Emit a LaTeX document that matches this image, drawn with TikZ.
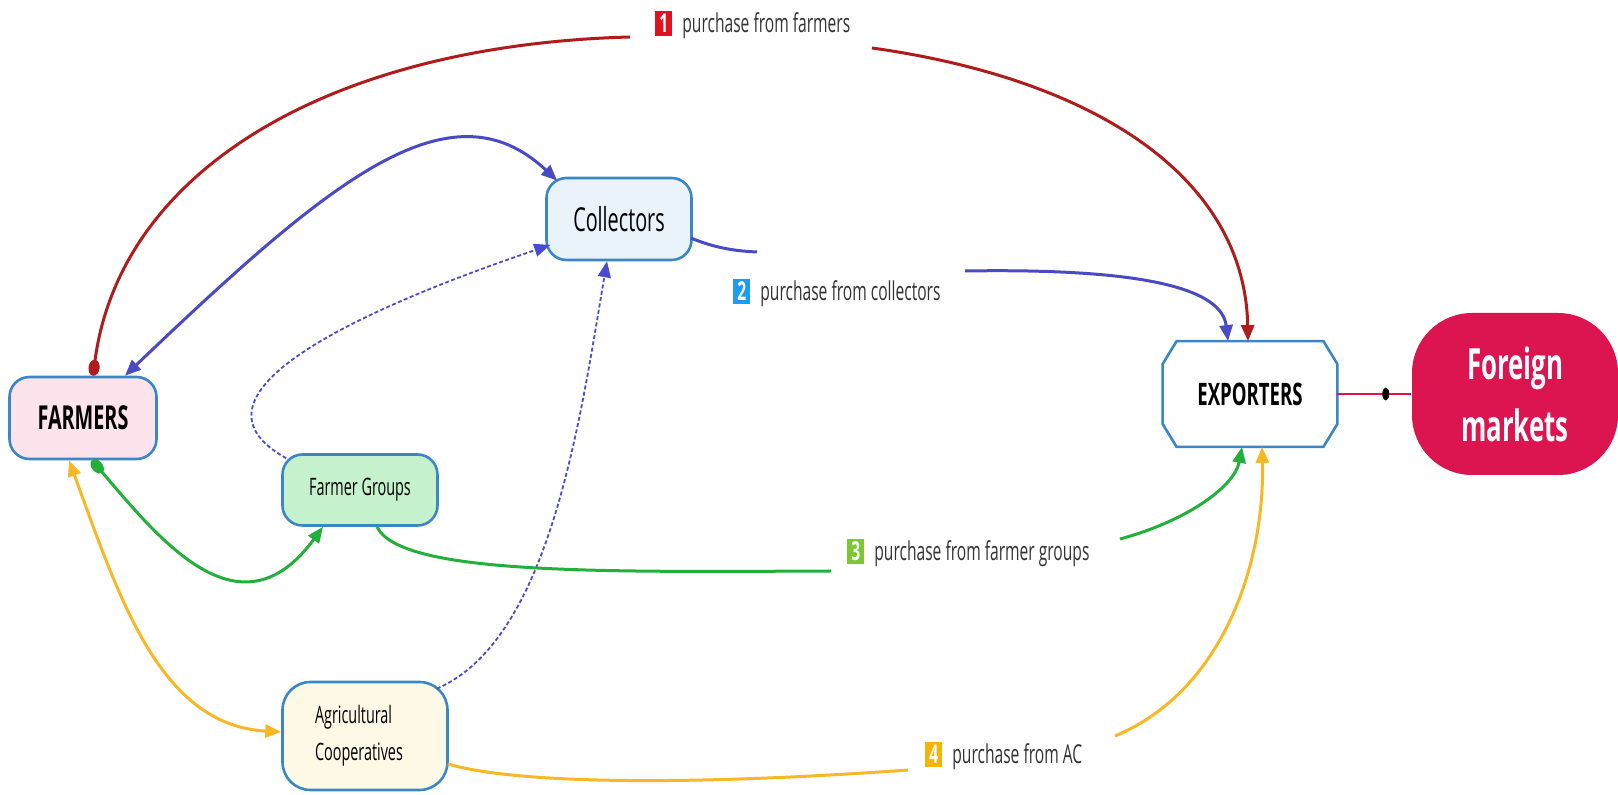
\documentclass[tikz,border=0pt]{standalone}
\usepackage{fontspec}
\setmainfont{Open Sans}[FakeStretch=0.6]
\usetikzlibrary{arrows.meta,calc,shapes.geometric}
\definecolor{bord}{HTML}{3A87C8}
\definecolor{farmfill}{HTML}{FDE4EC}
\definecolor{collfill}{HTML}{EAF2FA}
\definecolor{fgfill}{HTML}{C5F2CC}
\definecolor{acfill}{HTML}{FEF8E6}
\definecolor{crim}{HTML}{DC1450}
\definecolor{cred}{HTML}{B01C1C}
\definecolor{cblue}{HTML}{4A4AC4}
\definecolor{cdash}{HTML}{4B4BCF}
\definecolor{cgreen}{HTML}{22B03A}
\definecolor{corange}{HTML}{F8B825}
\definecolor{b1}{HTML}{E0121F}
\definecolor{b2}{HTML}{1E9BF0}
\definecolor{b3}{HTML}{7DC832}
\definecolor{b4}{HTML}{F5B400}
\definecolor{labtext}{HTML}{333333}
\newcommand\badge[2]{{\setlength{\fboxsep}{0pt}\colorbox{#1}{\makebox[8.5pt]{\rule[-2pt]{0pt}{12.5pt}\textcolor{white}{\bfseries #2}}}}}
\tikzset{
  tri/.tip={Triangle[length=8pt,width=6.5pt]},
  rdot/.tip={Circle[length=8pt,width=5.5pt]},
  box/.style={draw=bord, line width=1.3pt, rounded corners=10pt, align=center, inner sep=0pt},
  lab/.style={anchor=west, inner sep=0pt, text=labtext, font=\fontsize{13}{16}\selectfont},
  con/.style={line width=1.5pt},
  dcon/.style={line width=0.9pt, dash pattern=on 2pt off 1.2pt, color=cdash}
}
\begin{document}
\begin{tikzpicture}[x=0.5pt,y={(0pt,-0.5pt)}]
\useasboundingbox (0,0) rectangle (1618,795);
% nodes
\node[box, fill=farmfill, minimum width=73.5pt, minimum height=41pt, font=\fontsize{16.5}{20}\selectfont\bfseries] (farmers) at (83,418) {FARMERS};
\node[box, fill=collfill, minimum width=72.5pt, minimum height=41pt, font=\fontsize{16.5}{20}\selectfont] (coll) at (619,219) {Collectors};
\node[minimum width=87pt, minimum height=52.5pt, inner sep=0pt, fill=white, font=\fontsize{15.5}{19}\selectfont\bfseries] (exp) at (1250,394) {EXPORTERS};
\draw[draw=bord, line width=1.3pt] ($(exp.north west)+(14,0)$) -- ($(exp.north east)+(-14,0)$) -- ($(exp.north east)+(0,23)$) -- ($(exp.south east)+(0,-23)$) -- ($(exp.south east)+(-14,0)$) -- ($(exp.south west)+(14,0)$) -- ($(exp.south west)+(0,-23)$) -- ($(exp.north west)+(0,23)$) -- cycle;
\node[box, draw=none, fill=crim, text=white, rounded corners=30pt, minimum width=103pt, minimum height=81pt, font=\fontsize{21.5}{31}\selectfont\bfseries] (foreign) at (1515,394) {Foreign\\markets};
\node[box, fill=fgfill, minimum width=77.5pt, minimum height=35.5pt, font=\fontsize{12}{15}\selectfont] (fg) at (360,490) {Farmer Groups};
\node[box, fill=acfill, rounded corners=14pt, minimum width=82.5pt, minimum height=54pt, align=left, font=\fontsize{12}{18.5}\selectfont] (ac) at (365,736) {Agricultural\\Cooperatives\hspace*{6pt}};
% labels
\node[lab] (l1) at (655,25) {\badge{b1}{1}\hspace{5pt}purchase from farmers};
\node[lab] (l2) at (733,293) {\badge{b2}{2}\hspace{5pt}purchase from collectors};
\node[lab] (l3) at (847,553) {\badge{b3}{3}\hspace{5pt}purchase from farmer groups};
\node[lab] (l4) at (925,756) {\badge{b4}{4}\hspace{5pt}purchase from AC};
% free ends of connectors beside the labels
\coordinate (r1) at (630,37);
\coordinate (r2) at (872,48);
\coordinate (bl1) at (757,252);
\coordinate (bl2) at (965,271);
\coordinate (g1) at (831,571);
\coordinate (g2) at (1120,539);
\coordinate (o1) at (908,770);
\coordinate (o2) at (1115,736);
% red
\draw[con, cred, rdot-] ($(farmers.north)+(10,0)$) .. controls (120,170) and (330,45) .. (r1);
\draw[con, cred, -tri] (r2) .. controls (1100,80) and (1245,180) .. ($(exp.north)+(-2,0)$);
% blue
\draw[con, cblue, tri-tri] ($(farmers.north)+(42,0)$) .. controls (330,180) and (450,80) .. ($(coll.north west)+(12,4)$);
\draw[con, cblue] ($(coll.east)+(-2,19)$) .. controls (715,248) and (735,251) .. (bl1);
\draw[con, cblue, -tri] (bl2) .. controls (1150,268) and (1222,290) .. ($(exp.north)+(-22,0)$);
% dashed
\draw[dcon, -tri] ($(fg.north west)+(5,5)$) .. controls (190,405) and (300,330) .. ($(coll.west)+(5,26)$);
\draw[dcon, -tri] ($(ac.north east)+(-12,8)$) .. controls (550,640) and (580,420) .. ($(coll.south)+(-12,0)$);
% green
\draw[con, cgreen, rdot-tri] ($(farmers.south)+(9,0)$) .. controls (160,540) and (240,640) .. ($(fg.south)+(-37,0)$);
\draw[con, cgreen] ($(fg.south)+(17,0)$) .. controls (400,575) and (600,572) .. (g1);
\draw[con, cgreen, -tri] (g2) .. controls (1190,520) and (1235,485) .. ($(exp.south)+(-8,0)$);
% orange
\draw[con, corange, tri-tri] ($(farmers.south)+(-14,0)$) .. controls (120,600) and (160,725) .. ($(ac.west)+(0,-4)$);
\draw[con, corange] ($(ac.east)+(-1,28)$) .. controls (520,785) and (700,785) .. (o1);
\draw[con, corange, -tri] (o2) .. controls (1225,690) and (1265,560) .. ($(exp.south)+(12,0)$);
% foreign
\draw[line width=1.4pt, crim] (exp.east) -- (foreign.west) node[pos=0.66, fill=black, ellipse, inner sep=0pt, minimum width=3.5pt, minimum height=6.5pt] (fdot) {};
\end{tikzpicture}
\end{document}
